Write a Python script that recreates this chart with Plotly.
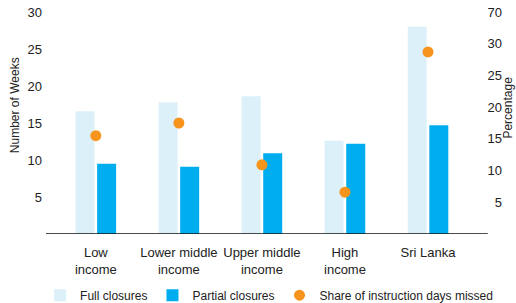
import plotly.graph_objects as go

categories = ["Low<br>income", "Lower middle<br>income", "Upper middle<br>income", "High<br>income", "Sri Lanka"]
full_closures = [16.6, 17.8, 18.6, 12.6, 28.0]
partial_closures = [9.5, 9.1, 10.9, 12.2, 14.7]
share_missed = [15.5, 17.5, 10.9, 6.6, 28.7]

left_ticks = [5, 10, 15, 20, 25, 30]
right_ticks = [5, 10, 15, 20, 25, 30, 35]
right_tick_text = ["5", "10", "15", "20", "25", "30", "70"]

FONT = "Liberation Sans, Arial, Helvetica, sans-serif"
TXT = "#222222"

fig = go.Figure()
fig.add_trace(go.Bar(x=categories, y=full_closures, name="Full closures",
                     marker=dict(color="#DCF0FA", line=dict(width=0))))
fig.add_trace(go.Bar(x=categories, y=partial_closures, name="Partial closures",
                     marker=dict(color="#00AEEF", line=dict(width=0))))
fig.add_trace(go.Scatter(x=categories, y=share_missed, name="Share of instruction days missed",
                         mode="markers", yaxis="y2",
                         marker=dict(color="#F7941D", size=11, line=dict(width=0))))

fig.update_layout(
    width=516, height=303,
    margin=dict(l=46, r=17, t=4, b=69, autoexpand=False),
    paper_bgcolor="white", plot_bgcolor="white",
    font=dict(family=FONT, size=13, color=TXT),
    barmode="group", bargap=0.48, bargroupgap=0.12,
    showlegend=True,
    legend=dict(orientation="h", xref="paper", yref="paper",
                x=-0.013, xanchor="left", y=-0.203, yanchor="top",
                font=dict(size=12, color=TXT), itemwidth=30,
                bgcolor="rgba(0,0,0,0)"),
    xaxis=dict(range=[-0.6, 4.855], showgrid=False, showline=False, zeroline=False,
               ticks="", ticklabelstandoff=9, tickfont=dict(size=13, color=TXT)),
    yaxis=dict(range=[0, 31.08], tickvals=left_ticks, showgrid=False, zeroline=False,
               showline=False, ticks="", ticklabelstandoff=3,
               tickfont=dict(size=13, color=TXT)),
    yaxis2=dict(range=[0, 36.26], tickvals=right_ticks, ticktext=right_tick_text,
                overlaying="y", side="right", showgrid=False, zeroline=False,
                showline=False, ticks="", ticklabelposition="inside",
                ticklabelstandoff=-6, tickfont=dict(size=13, color=TXT)),
    shapes=[dict(type="line", xref="x", yref="y", x0=-0.795, x1=4.72, y0=0, y1=0,
                 line=dict(color="#111111", width=1.3))],
    annotations=[
        dict(text="Number of Weeks", xref="paper", yref="paper", x=-0.068, y=0.561,
             textangle=-90, showarrow=False, font=dict(size=12, color=TXT),
             xanchor="center", yanchor="middle"),
        dict(text="Percentage", xref="paper", yref="paper", x=1.02, y=0.55,
             textangle=-90, showarrow=False, font=dict(size=12, color=TXT),
             xanchor="center", yanchor="middle"),
    ],
)

fig.write_html("out.html", config={"displayModeBar": False},
               post_script="document.body.style.margin='0';")
